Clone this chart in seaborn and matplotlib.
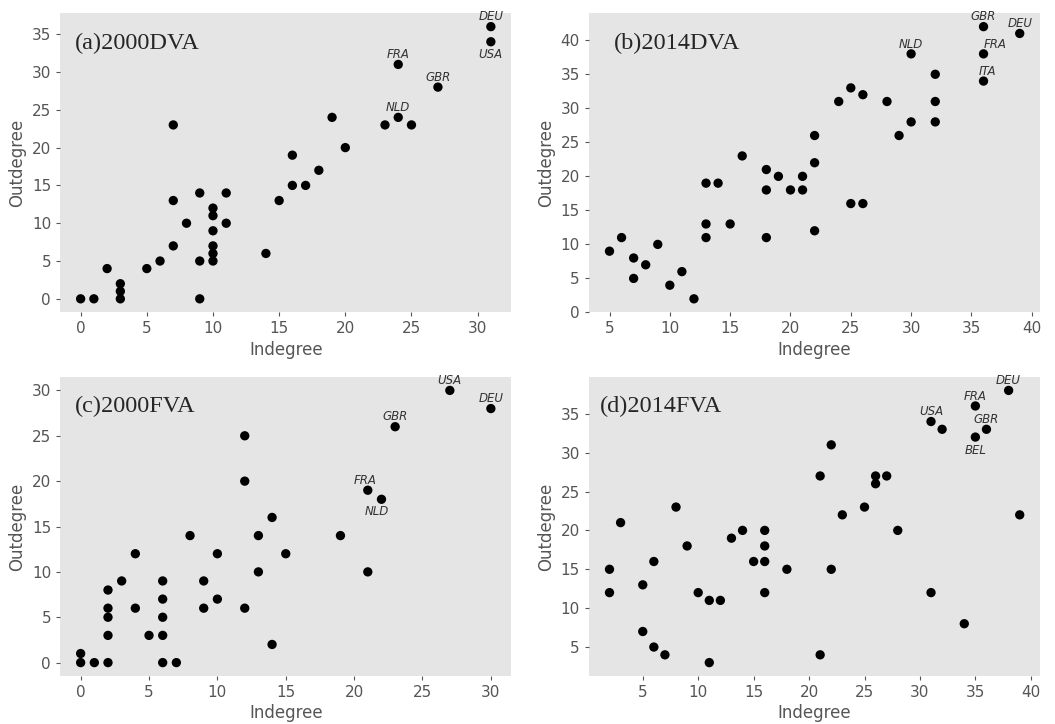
""" Indegree vs outdegree scatter for DVA / FVA networks, 2000 and 2014 """

import numpy as np
import pandas as pd
import matplotlib
matplotlib.use("Agg")
import matplotlib.pyplot as plt
import seaborn as sns

# (a) 2000 DVA
dva2000_in = [0, 1, 2, 3, 3, 3, 5, 6, 7, 7, 7, 8, 9, 9, 9, 10, 10, 10, 10, 10, 10,
              11, 11, 14, 15, 16, 16, 17, 18, 19, 20, 23, 24, 25, 24, 27, 31, 31]
dva2000_out = [0, 0, 4, 0, 1, 2, 4, 5, 23, 13, 7, 10, 14, 5, 0, 12, 11, 9, 7, 6, 5,
               14, 10, 6, 13, 19, 15, 15, 17, 24, 20, 23, 24, 23, 31, 28, 36, 34]
dva2000_lab = [""] * 32 + ["NLD", "", "FRA", "GBR", "DEU", "USA"]

# (b) 2014 DVA
dva2014_in = [5, 6, 7, 7, 8, 9, 10, 11, 12, 13, 13, 13, 14, 15, 16, 18, 18, 18, 19, 20,
              21, 21, 22, 22, 22, 24, 25, 25, 26, 26, 28, 29, 30, 30, 32, 32, 32,
              36, 36, 36, 39]
dva2014_out = [9, 11, 8, 5, 7, 10, 4, 6, 2, 19, 13, 11, 19, 13, 23, 21, 18, 11, 20, 18,
               20, 18, 26, 22, 12, 31, 33, 16, 32, 16, 31, 26, 38, 28, 35, 31, 28,
               42, 38, 34, 41]
dva2014_lab = [""] * 32 + ["NLD", "", "", "", "", "GBR", "FRA", "ITA", "DEU"]

# (c) 2000 FVA
fva2000_in = [0, 0, 1, 2, 2, 2, 2, 2, 3, 4, 4, 5, 6, 6, 6, 6, 6, 7, 8, 9, 9, 10, 10,
              12, 12, 12, 13, 13, 14, 14, 15, 19, 21, 21, 22, 23, 27, 30]
fva2000_out = [1, 0, 0, 8, 6, 5, 3, 0, 9, 12, 6, 3, 9, 7, 5, 3, 0, 0, 14, 9, 6, 12, 7,
               25, 20, 6, 14, 10, 16, 2, 12, 14, 19, 10, 18, 26, 30, 28]
fva2000_lab = [""] * 32 + ["FRA", "", "NLD", "GBR", "USA", "DEU"]

# (d) 2014 FVA
fva2014_in = [2, 2, 3, 5, 5, 6, 6, 7, 8, 9, 10, 11, 11, 12, 13, 14, 15, 16, 16, 16, 16,
              18, 21, 21, 22, 22, 23, 25, 26, 26, 27, 28, 31, 34, 39,
              31, 32, 35, 36, 35, 38]
fva2014_out = [15, 12, 21, 13, 7, 16, 5, 4, 23, 18, 12, 11, 3, 11, 19, 20, 16, 20, 18, 16, 12,
               15, 27, 4, 31, 15, 22, 23, 27, 26, 27, 20, 12, 8, 22,
               34, 33, 36, 33, 32, 38]
fva2014_lab = [""] * 35 + ["USA", "", "FRA", "GBR", "BEL", "DEU"]

titles = ["(a)2000DVA", "(b)2014DVA", "(c)2000FVA", "(d)2014FVA"]

# label placement per country: (dx, dy) in points
offsets = [
    {"NLD": (0, 7), "FRA": (0, 7), "GBR": (0, 7), "DEU": (0, 7), "USA": (0, -9)},
    {"NLD": (0, 7), "GBR": (0, 7), "FRA": (8, 7), "ITA": (3, 7), "DEU": (0, 7)},
    {"FRA": (-2, 7), "NLD": (-3, -9), "GBR": (0, 7), "USA": (0, 7), "DEU": (0, 7)},
    {"USA": (0, 7), "FRA": (0, 7), "GBR": (0, 7), "BEL": (0, -10), "DEU": (0, 7)},
]
title_x = [0.033, 0.056, 0.033, 0.025]

sns.set_style("ticks")
plt.rcParams.update({
    "axes.facecolor": "#E5E5E5",
    "axes.edgecolor": "#E5E5E5",
    "axes.labelcolor": "#555555",
    "xtick.color": "#555555",
    "ytick.color": "#555555",
    "axes.grid": False,
})

fig, axs = plt.subplots(2, 2, figsize=(10.55, 7.24), dpi=100)
fig.subplots_adjust(left=0.057, right=0.986, top=0.982, bottom=0.066,
                    wspace=0.172, hspace=0.215)

panels = [
    (dva2000_in, dva2000_out, dva2000_lab),
    (dva2014_in, dva2014_out, dva2014_lab),
    (fva2000_in, fva2000_out, fva2000_lab),
    (fva2014_in, fva2014_out, fva2014_lab),
]

for i, (ax, (xin, yout, lab)) in enumerate(zip(axs.flat, panels)):
    df = pd.DataFrame({"Indegree": xin, "Outdegree": yout, "label": lab})
    sns.scatterplot(data=df, x="Indegree", y="Outdegree", ax=ax,
                    color="black", s=45, edgecolor="none")
    for _, row in df[df["label"] != ""].iterrows():
        dx, dy = offsets[i][row["label"]]
        ax.annotate(row["label"], (row["Indegree"], row["Outdegree"]),
                    xytext=(dx, dy), textcoords="offset points",
                    ha="center", va="center", fontsize=8.5, style="italic",
                    color="#333333")
    ax.text(title_x[i], 0.90, titles[i], transform=ax.transAxes,
            fontsize=17.5, family="Liberation Serif", va="center", ha="left")
    ax.set_xlabel("Indegree", fontsize=12, labelpad=3)
    ax.set_ylabel("Outdegree", fontsize=12)
    ax.tick_params(labelsize=11, length=3, width=0.8)
    for sp in ax.spines.values():
        sp.set_visible(False)

plt.savefig("out.png", dpi=100)
